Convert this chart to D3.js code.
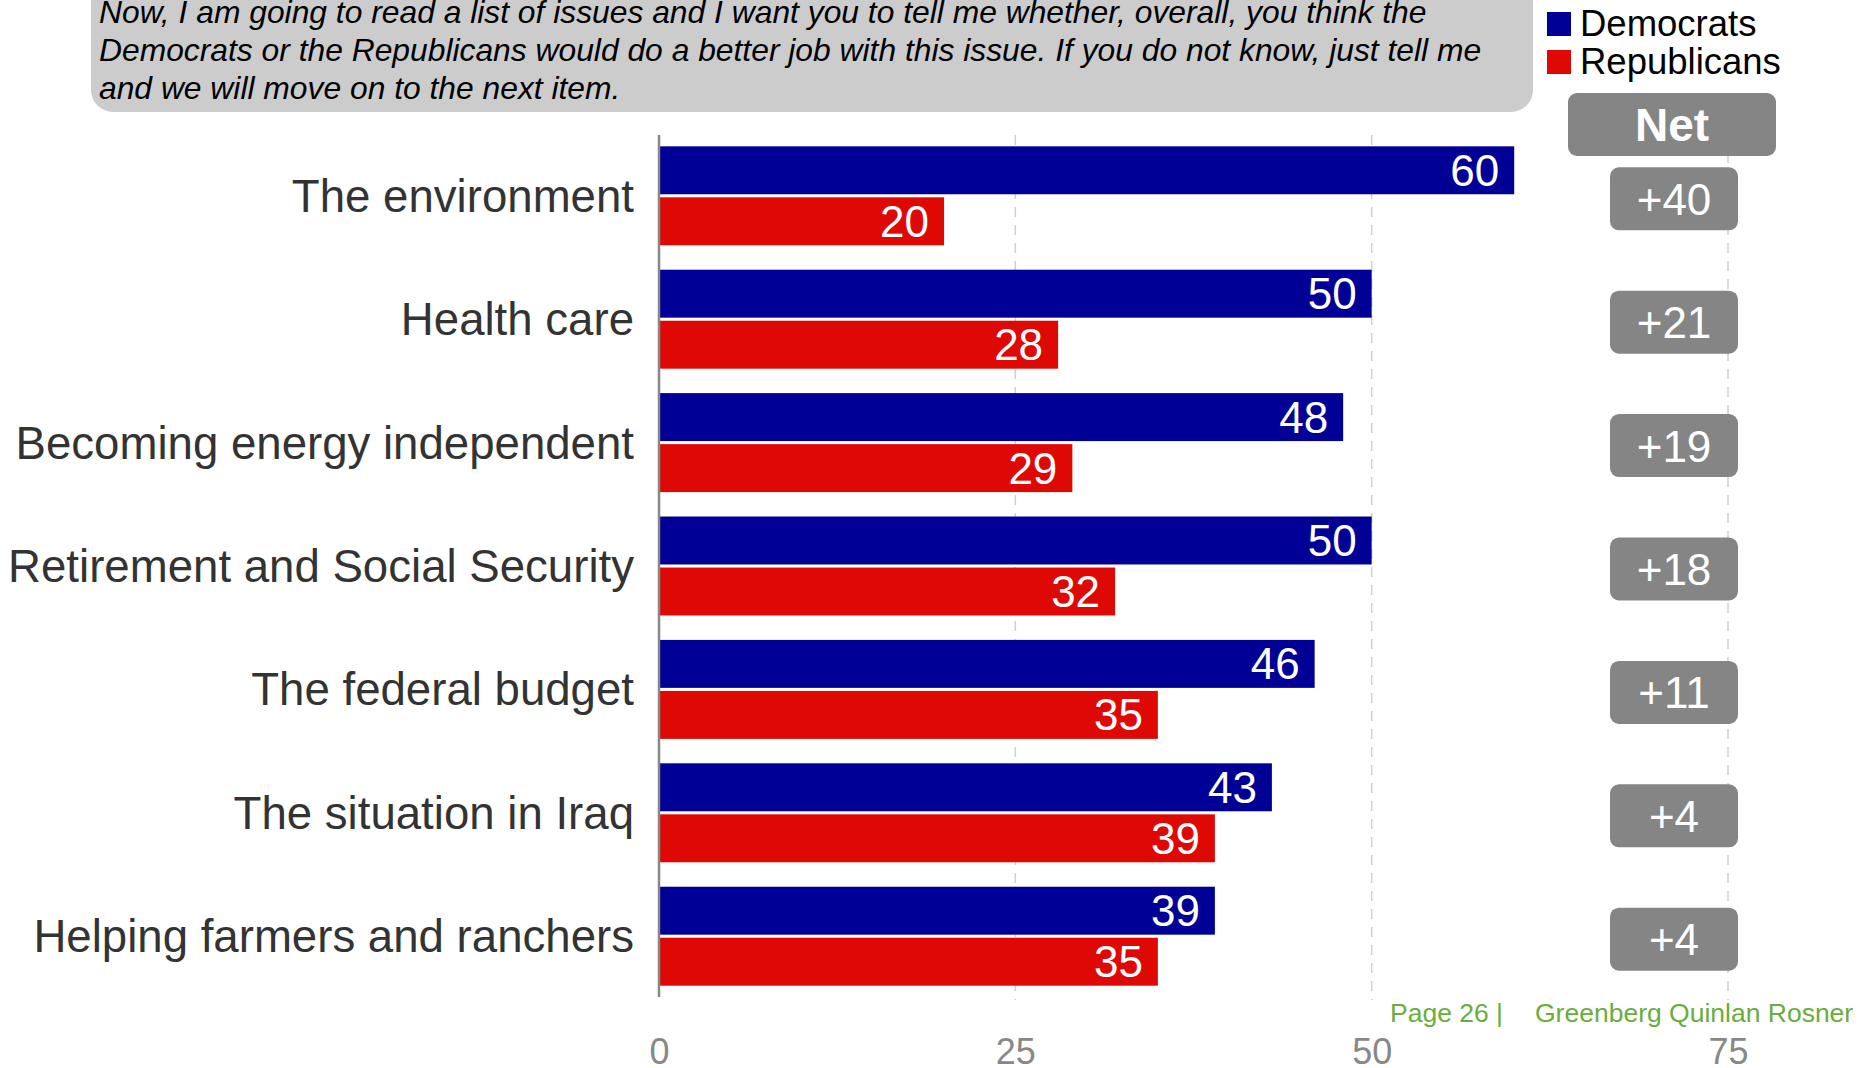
<!DOCTYPE html>
<html><head><meta charset="utf-8">
<script src="https://cdn.jsdelivr.net/npm/d3@7"></script>
<style>
body{margin:0;background:#fff;}
svg{display:block;font-family:"Liberation Sans",Arial,sans-serif;}
</style></head>
<body>
<svg id="chart" width="1873" height="1068"></svg>
<script>
const categories = ["The environment","Health care","Becoming energy independent","Retirement and Social Security","The federal budget","The situation in Iraq","Helping farmers and ranchers"];
const democrats = [60,50,48,50,46,43,39];
const republicans = [20,28,29,32,35,39,35];
const netValues = [40,21,19,18,11,4,4];
const seriesNames = ["Democrats","Republicans"];
const xTicks = [0,25,50,75];
const questionLines = [
  "Now, I am going to read a list of issues and I want you to tell me whether, overall, you think the",
  "Democrats or the Republicans would do a better job with this issue. If you do not know, just tell me",
  "and we will move on to the next item."
];
const footerPage = "Page 26 |";
const footerOrg = "Greenberg Quinlan Rosner";

const colors = {Democrats:"#000096", Republicans:"#de0905"};
const svg = d3.select("#chart");

const x = d3.scaleLinear().domain([0,75]).range([659,1728]);
const y = d3.scaleBand().domain(categories).range([135,997]).paddingInner(0.198).paddingOuter(0.0917);
const ySub = d3.scaleBand().domain(seriesNames).range([0,y.bandwidth()]).paddingInner(0.06);

// header box
svg.append("rect").attr("x",91).attr("y",-30).attr("width",1442).attr("height",142)
  .attr("rx",22).attr("fill","#cccccc");
svg.append("g").selectAll("text").data(questionLines).join("text")
  .attr("x",99).attr("y",(d,i)=>23+i*38)
  .attr("font-size",31.8).attr("font-style","italic").attr("fill","#000").text(d=>d);

// legend
const leg = svg.append("g").selectAll("g").data(seriesNames).join("g")
  .attr("transform",(d,i)=>`translate(1547,${12+i*38})`);
leg.append("rect").attr("width",24).attr("height",24).attr("fill",d=>colors[d]);
leg.append("text").attr("x",33).attr("y",23.5).attr("font-size",36.5).attr("fill","#000").text(d=>d);

// gridlines
svg.append("g").selectAll("line").data(xTicks.filter(t=>t>0)).join("line")
  .attr("x1",d=>x(d)).attr("x2",d=>x(d)).attr("y1",135).attr("y2",1000)
  .attr("stroke","#cfcfcf").attr("stroke-width",1.5).attr("stroke-dasharray","10,8");

// bars
const rows = categories.map((c,i)=>({cat:c, vals:[{s:"Democrats",v:democrats[i]},{s:"Republicans",v:republicans[i]}]}));
const grp = svg.append("g").selectAll("g").data(rows).join("g")
  .attr("transform",d=>`translate(0,${y(d.cat)})`);
grp.selectAll("rect").data(d=>d.vals).join("rect")
  .attr("x",x(0)).attr("y",d=>ySub(d.s)).attr("width",d=>x(d.v)-x(0)).attr("height",ySub.bandwidth())
  .attr("fill",d=>colors[d.s]);
grp.selectAll("text.val").data(d=>d.vals).join("text").attr("class","val")
  .attr("x",d=>x(d.v)-15).attr("y",d=>ySub(d.s)+ySub.bandwidth()/2+15.5)
  .attr("text-anchor","end").attr("font-size",44).attr("fill","#fff").text(d=>d.v);

// category labels
svg.append("g").selectAll("text").data(categories).join("text")
  .attr("x",634).attr("y",d=>y(d)+y.bandwidth()/2+16)
  .attr("text-anchor","end").attr("font-size",45.6).attr("fill","#333").text(d=>d);

// axis line
svg.append("line").attr("x1",x(0)).attr("x2",x(0)).attr("y1",135).attr("y2",997)
  .attr("stroke","#888").attr("stroke-width",2.5);

// bottom tick labels
const ax = svg.append("g").attr("transform","translate(0,1038)")
  .call(d3.axisBottom(x).tickValues(xTicks).tickSize(0).tickPadding(0).tickFormat(d3.format("d")));
ax.select(".domain").remove();
ax.selectAll("text").attr("font-size",36).attr("fill","#888").attr("font-family","Liberation Sans, Arial, sans-serif");

// Net header
const netX = 1674;
svg.append("rect").attr("x",1568).attr("y",93).attr("width",208).attr("height",63).attr("rx",9).attr("fill","#858585");
svg.append("text").attr("x",1672).attr("y",141).attr("text-anchor","middle").attr("font-size",46)
  .attr("font-weight","bold").attr("fill","#fff").text("Net");

// Net boxes
const nb = svg.append("g").selectAll("g").data(categories).join("g")
  .attr("transform",(d)=>`translate(${netX},${y(d)+y.bandwidth()/2+3})`);
nb.append("rect").attr("x",-64).attr("y",-31.5).attr("width",128).attr("height",63).attr("rx",9).attr("fill","#858585");
nb.append("text").attr("y",16).attr("text-anchor","middle").attr("font-size",44).attr("fill","#fff")
  .text((d,i)=>"+"+netValues[i]);

// footer
svg.append("text").attr("x",1390).attr("y",1022).attr("font-size",26.5).attr("fill","#6aad3d").text(footerPage);
svg.append("text").attr("x",1535).attr("y",1022).attr("font-size",26.5).attr("fill","#6aad3d").text(footerOrg);
</script>
</body></html>
